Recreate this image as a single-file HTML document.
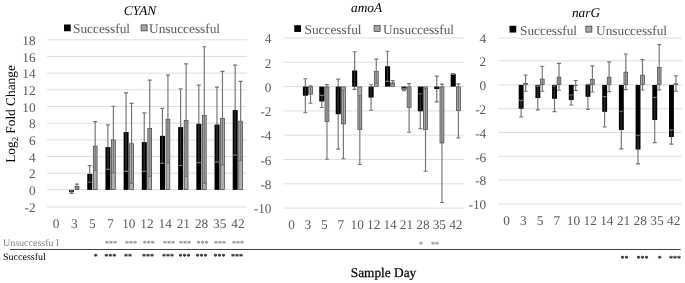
<!DOCTYPE html><html><head><meta charset="utf-8"><title>Figure</title><style>html,body{margin:0;padding:0;background:#fff}svg{display:block;will-change:transform}svg text{font-family:"Liberation Serif",serif;text-rendering:geometricPrecision}</style></head><body><svg width="685" height="283" viewBox="0 0 685 283">
<rect width="685" height="283" fill="#fff"/>
<line x1="47" x2="247" y1="207.00" y2="207.00" stroke="#dedede" stroke-width="1"/>
<text x="35.7" y="212.20" font-size="13.33" fill="#595959" text-anchor="end">-2</text>
<line x1="47" x2="247" y1="189.60" y2="189.60" stroke="#dedede" stroke-width="1"/>
<text x="35.7" y="194.80" font-size="13.33" fill="#595959" text-anchor="end">0</text>
<line x1="47" x2="247" y1="173.22" y2="173.22" stroke="#dedede" stroke-width="1"/>
<text x="35.7" y="178.42" font-size="13.33" fill="#595959" text-anchor="end">2</text>
<line x1="47" x2="247" y1="156.54" y2="156.54" stroke="#dedede" stroke-width="1"/>
<text x="35.7" y="161.74" font-size="13.33" fill="#595959" text-anchor="end">4</text>
<line x1="47" x2="247" y1="139.86" y2="139.86" stroke="#dedede" stroke-width="1"/>
<text x="35.7" y="145.06" font-size="13.33" fill="#595959" text-anchor="end">6</text>
<line x1="47" x2="247" y1="123.18" y2="123.18" stroke="#dedede" stroke-width="1"/>
<text x="35.7" y="128.38" font-size="13.33" fill="#595959" text-anchor="end">8</text>
<line x1="47" x2="247" y1="106.50" y2="106.50" stroke="#dedede" stroke-width="1"/>
<text x="35.7" y="111.70" font-size="13.33" fill="#595959" text-anchor="end">10</text>
<line x1="47" x2="247" y1="89.82" y2="89.82" stroke="#dedede" stroke-width="1"/>
<text x="35.7" y="95.02" font-size="13.33" fill="#595959" text-anchor="end">12</text>
<line x1="47" x2="247" y1="73.14" y2="73.14" stroke="#dedede" stroke-width="1"/>
<text x="35.7" y="78.34" font-size="13.33" fill="#595959" text-anchor="end">14</text>
<line x1="47" x2="247" y1="56.46" y2="56.46" stroke="#dedede" stroke-width="1"/>
<text x="35.7" y="61.66" font-size="13.33" fill="#595959" text-anchor="end">16</text>
<line x1="47" x2="247" y1="39.78" y2="39.78" stroke="#dedede" stroke-width="1"/>
<text x="35.7" y="44.98" font-size="13.33" fill="#595959" text-anchor="end">18</text>
<text x="56.09" y="228" font-size="13.33" fill="#595959" text-anchor="middle">0</text>
<text x="74.27" y="228" font-size="13.33" fill="#595959" text-anchor="middle">3</text>
<rect x="69.07" y="189.90" width="5.00" height="2.25" fill="#000"/>
<path d="M71.52 190.90V193.40M69.52 190.90H73.52M69.52 193.40H73.52" stroke="#737373" stroke-width="1.15" fill="none"/>
<path d="M71.52 191.70V192.15" stroke="#000" stroke-opacity="0.6" stroke-width="1.6" fill="none"/>
<rect x="75.12" y="186.50" width="3.80" height="3.05" fill="#adadad" stroke="#383838" stroke-width="0.7"/>
<path d="M77.02 184.06V188.23M75.02 184.06H79.02M75.02 188.23H79.02" stroke="#737373" stroke-width="1.15" fill="none"/>
<text x="92.45" y="228" font-size="13.33" fill="#595959" text-anchor="middle">5</text>
<rect x="87.25" y="173.89" width="5.00" height="16.01" fill="#000"/>
<path d="M89.70 165.55V182.23M87.70 165.55H91.70M87.70 182.23H91.70" stroke="#737373" stroke-width="1.15" fill="none"/>
<path d="M89.70 173.89V181.43" stroke="#000" stroke-opacity="0.6" stroke-width="1.6" fill="none"/>
<rect x="93.30" y="146.21" width="3.80" height="43.34" fill="#adadad" stroke="#383838" stroke-width="0.7"/>
<path d="M95.20 121.68V170.05M93.20 121.68H97.20M93.20 170.05H97.20" stroke="#737373" stroke-width="1.15" fill="none"/>
<text x="110.64" y="228" font-size="13.33" fill="#595959" text-anchor="middle">7</text>
<rect x="105.44" y="147.12" width="5.00" height="42.78" fill="#000"/>
<path d="M107.89 124.85V169.38M105.89 124.85H109.89M105.89 169.38H109.89" stroke="#737373" stroke-width="1.15" fill="none"/>
<path d="M107.89 147.12V168.58" stroke="#000" stroke-opacity="0.6" stroke-width="1.6" fill="none"/>
<rect x="111.49" y="139.96" width="3.80" height="49.59" fill="#adadad" stroke="#383838" stroke-width="0.7"/>
<path d="M113.39 106.25V172.97M111.39 106.25H115.39M111.39 172.97H115.39" stroke="#737373" stroke-width="1.15" fill="none"/>
<text x="128.82" y="228" font-size="13.33" fill="#595959" text-anchor="middle">10</text>
<rect x="123.62" y="132.10" width="5.00" height="57.80" fill="#000"/>
<path d="M126.07 92.91V171.30M124.07 92.91H128.07M124.07 171.30H128.07" stroke="#737373" stroke-width="1.15" fill="none"/>
<path d="M126.07 132.10V170.50" stroke="#000" stroke-opacity="0.6" stroke-width="1.6" fill="none"/>
<rect x="129.67" y="143.71" width="3.80" height="45.84" fill="#adadad" stroke="#383838" stroke-width="0.7"/>
<path d="M131.57 103.33V183.39M129.57 103.33H133.57M129.57 183.39H133.57" stroke="#737373" stroke-width="1.15" fill="none"/>
<text x="147.00" y="228" font-size="13.33" fill="#595959" text-anchor="middle">12</text>
<rect x="141.80" y="142.11" width="5.00" height="47.79" fill="#000"/>
<path d="M144.25 112.92V171.30M142.25 112.92H146.25M142.25 171.30H146.25" stroke="#737373" stroke-width="1.15" fill="none"/>
<path d="M144.25 142.11V170.50" stroke="#000" stroke-opacity="0.6" stroke-width="1.6" fill="none"/>
<rect x="147.85" y="128.53" width="3.80" height="61.02" fill="#adadad" stroke="#383838" stroke-width="0.7"/>
<path d="M149.75 80.06V176.31M147.75 80.06H151.75M147.75 176.31H151.75" stroke="#737373" stroke-width="1.15" fill="none"/>
<text x="165.18" y="228" font-size="13.33" fill="#595959" text-anchor="middle">14</text>
<rect x="159.98" y="135.86" width="5.00" height="54.04" fill="#000"/>
<path d="M162.43 108.33V163.38M160.43 108.33H164.43M160.43 163.38H164.43" stroke="#737373" stroke-width="1.15" fill="none"/>
<path d="M162.43 135.86V162.58" stroke="#000" stroke-opacity="0.6" stroke-width="1.6" fill="none"/>
<rect x="166.03" y="119.19" width="3.80" height="70.36" fill="#adadad" stroke="#383838" stroke-width="0.7"/>
<path d="M167.93 75.06V162.63M165.93 75.06H169.93M165.93 162.63H169.93" stroke="#737373" stroke-width="1.15" fill="none"/>
<text x="183.36" y="228" font-size="13.33" fill="#595959" text-anchor="middle">21</text>
<rect x="178.16" y="127.10" width="5.00" height="62.80" fill="#000"/>
<path d="M180.61 88.74V165.46M178.61 88.74H182.61M178.61 165.46H182.61" stroke="#737373" stroke-width="1.15" fill="none"/>
<path d="M180.61 127.10V164.66" stroke="#000" stroke-opacity="0.6" stroke-width="1.6" fill="none"/>
<rect x="184.21" y="120.44" width="3.80" height="69.11" fill="#adadad" stroke="#383838" stroke-width="0.7"/>
<path d="M186.11 63.80V176.39M184.11 63.80H188.11M184.11 176.39H188.11" stroke="#737373" stroke-width="1.15" fill="none"/>
<text x="201.55" y="228" font-size="13.33" fill="#595959" text-anchor="middle">28</text>
<rect x="196.35" y="123.85" width="5.00" height="66.05" fill="#000"/>
<path d="M198.80 85.07V162.63M196.80 85.07H200.80M196.80 162.63H200.80" stroke="#737373" stroke-width="1.15" fill="none"/>
<path d="M198.80 123.85V161.83" stroke="#000" stroke-opacity="0.6" stroke-width="1.6" fill="none"/>
<rect x="202.40" y="115.44" width="3.80" height="74.11" fill="#adadad" stroke="#383838" stroke-width="0.7"/>
<path d="M204.30 46.79V183.39M202.30 46.79H206.30M202.30 183.39H206.30" stroke="#737373" stroke-width="1.15" fill="none"/>
<text x="219.73" y="228" font-size="13.33" fill="#595959" text-anchor="middle">35</text>
<rect x="214.53" y="124.60" width="5.00" height="65.30" fill="#000"/>
<path d="M216.98 87.07V162.13M214.98 87.07H218.98M214.98 162.13H218.98" stroke="#737373" stroke-width="1.15" fill="none"/>
<path d="M216.98 124.60V161.33" stroke="#000" stroke-opacity="0.6" stroke-width="1.6" fill="none"/>
<rect x="220.58" y="118.44" width="3.80" height="71.11" fill="#adadad" stroke="#383838" stroke-width="0.7"/>
<path d="M222.48 71.31V164.88M220.48 71.31H224.48M220.48 164.88H224.48" stroke="#737373" stroke-width="1.15" fill="none"/>
<text x="237.91" y="228" font-size="13.33" fill="#595959" text-anchor="middle">42</text>
<rect x="232.71" y="110.09" width="5.00" height="79.81" fill="#000"/>
<path d="M235.16 65.05V155.12M233.16 65.05H237.16M233.16 155.12H237.16" stroke="#737373" stroke-width="1.15" fill="none"/>
<path d="M235.16 110.09V154.32" stroke="#000" stroke-opacity="0.6" stroke-width="1.6" fill="none"/>
<rect x="238.76" y="121.19" width="3.80" height="68.36" fill="#adadad" stroke="#383838" stroke-width="0.7"/>
<path d="M240.66 81.31V160.38M238.66 81.31H242.66M238.66 160.38H242.66" stroke="#737373" stroke-width="1.15" fill="none"/>
<text x="140" y="15" font-size="13.33" font-style="italic" fill="#000" text-anchor="middle">CYAN</text>
<rect x="64" y="24.5" width="6.75" height="6.75" fill="#000"/>
<text x="73" y="32.5" font-size="13.33" fill="#595959">Successful</text>
<rect x="141.1" y="24.85" width="6" height="6" fill="#a6a6a6" stroke="#333" stroke-width="0.7"/>
<text x="149" y="32.5" font-size="13.33" fill="#595959">Unsuccessful</text>
<line x1="283.3" x2="464" y1="208.10" y2="208.10" stroke="#dedede" stroke-width="1"/>
<text x="271.5" y="213.30" font-size="13.33" fill="#595959" text-anchor="end">-10</text>
<line x1="283.3" x2="464" y1="183.80" y2="183.80" stroke="#dedede" stroke-width="1"/>
<text x="271.5" y="189.00" font-size="13.33" fill="#595959" text-anchor="end">-8</text>
<line x1="283.3" x2="464" y1="159.50" y2="159.50" stroke="#dedede" stroke-width="1"/>
<text x="271.5" y="164.70" font-size="13.33" fill="#595959" text-anchor="end">-6</text>
<line x1="283.3" x2="464" y1="135.20" y2="135.20" stroke="#dedede" stroke-width="1"/>
<text x="271.5" y="140.40" font-size="13.33" fill="#595959" text-anchor="end">-4</text>
<line x1="283.3" x2="464" y1="110.90" y2="110.90" stroke="#dedede" stroke-width="1"/>
<text x="271.5" y="116.10" font-size="13.33" fill="#595959" text-anchor="end">-2</text>
<line x1="283.3" x2="464" y1="86.60" y2="86.60" stroke="#dedede" stroke-width="1"/>
<text x="271.5" y="91.80" font-size="13.33" fill="#595959" text-anchor="end">0</text>
<line x1="283.3" x2="464" y1="62.30" y2="62.30" stroke="#dedede" stroke-width="1"/>
<text x="271.5" y="67.50" font-size="13.33" fill="#595959" text-anchor="end">2</text>
<line x1="283.3" x2="464" y1="38.00" y2="38.00" stroke="#dedede" stroke-width="1"/>
<text x="271.5" y="43.20" font-size="13.33" fill="#595959" text-anchor="end">4</text>
<text x="291.51" y="229" font-size="13.33" fill="#595959" text-anchor="middle">0</text>
<text x="307.94" y="229" font-size="13.33" fill="#595959" text-anchor="middle">3</text>
<rect x="302.84" y="86.60" width="5.10" height="9.11" fill="#000"/>
<path d="M305.34 78.70V112.72M303.34 78.70H307.34M303.34 112.72H307.34" stroke="#737373" stroke-width="1.15" fill="none"/>
<path d="M305.34 86.60V95.71" stroke="#000" stroke-opacity="0.6" stroke-width="1.6" fill="none"/>
<rect x="308.59" y="86.95" width="3.90" height="7.20" fill="#adadad" stroke="#383838" stroke-width="0.7"/>
<path d="M310.54 85.75V103.25M308.54 85.75H312.54M308.54 103.25H312.54" stroke="#737373" stroke-width="1.15" fill="none"/>
<text x="324.37" y="229" font-size="13.33" fill="#595959" text-anchor="middle">5</text>
<rect x="319.27" y="86.60" width="5.10" height="14.82" fill="#000"/>
<path d="M321.77 95.35V107.50M319.77 95.35H323.77M319.77 107.50H323.77" stroke="#737373" stroke-width="1.15" fill="none"/>
<path d="M321.77 96.15V101.42" stroke="#000" stroke-opacity="0.6" stroke-width="1.6" fill="none"/>
<rect x="325.02" y="86.95" width="3.90" height="34.66" fill="#adadad" stroke="#383838" stroke-width="0.7"/>
<path d="M326.97 84.66V159.26M324.97 84.66H328.97M324.97 159.26H328.97" stroke="#737373" stroke-width="1.15" fill="none"/>
<text x="340.80" y="229" font-size="13.33" fill="#595959" text-anchor="middle">7</text>
<rect x="335.70" y="86.60" width="5.10" height="27.58" fill="#000"/>
<path d="M338.20 79.19V149.17M336.20 79.19H340.20M336.20 149.17H340.20" stroke="#737373" stroke-width="1.15" fill="none"/>
<path d="M338.20 86.60V114.18" stroke="#000" stroke-opacity="0.6" stroke-width="1.6" fill="none"/>
<rect x="341.45" y="86.95" width="3.90" height="36.96" fill="#adadad" stroke="#383838" stroke-width="0.7"/>
<path d="M343.40 89.76V158.77M341.40 89.76H345.40M341.40 158.77H345.40" stroke="#737373" stroke-width="1.15" fill="none"/>
<text x="357.22" y="229" font-size="13.33" fill="#595959" text-anchor="middle">10</text>
<rect x="352.12" y="70.56" width="5.10" height="16.04" fill="#000"/>
<path d="M354.62 51.73V89.39M352.62 51.73H356.62M352.62 89.39H356.62" stroke="#737373" stroke-width="1.15" fill="none"/>
<path d="M354.62 70.56V86.60" stroke="#000" stroke-opacity="0.6" stroke-width="1.6" fill="none"/>
<rect x="357.87" y="86.95" width="3.90" height="42.68" fill="#adadad" stroke="#383838" stroke-width="0.7"/>
<path d="M359.82 95.47V164.48M357.82 95.47H361.82M357.82 164.48H361.82" stroke="#737373" stroke-width="1.15" fill="none"/>
<text x="373.65" y="229" font-size="13.33" fill="#595959" text-anchor="middle">12</text>
<rect x="368.55" y="86.60" width="5.10" height="10.94" fill="#000"/>
<path d="M371.05 84.78V110.29M369.05 84.78H373.05M369.05 110.29H373.05" stroke="#737373" stroke-width="1.15" fill="none"/>
<path d="M371.05 86.60V97.53" stroke="#000" stroke-opacity="0.6" stroke-width="1.6" fill="none"/>
<rect x="374.30" y="71.64" width="3.90" height="14.61" fill="#adadad" stroke="#383838" stroke-width="0.7"/>
<path d="M376.25 59.14V83.44M374.25 59.14H378.25M374.25 83.44H378.25" stroke="#737373" stroke-width="1.15" fill="none"/>
<text x="390.08" y="229" font-size="13.33" fill="#595959" text-anchor="middle">14</text>
<rect x="384.98" y="66.31" width="5.10" height="20.29" fill="#000"/>
<path d="M387.48 51.24V81.38M385.48 51.24H389.48M385.48 81.38H389.48" stroke="#737373" stroke-width="1.15" fill="none"/>
<path d="M387.48 66.31V80.58" stroke="#000" stroke-opacity="0.6" stroke-width="1.6" fill="none"/>
<rect x="390.73" y="82.82" width="3.90" height="3.43" fill="#adadad" stroke="#383838" stroke-width="0.7"/>
<path d="M392.68 80.65V84.29M390.68 80.65H394.68M390.68 84.29H394.68" stroke="#737373" stroke-width="1.15" fill="none"/>
<text x="406.50" y="229" font-size="13.33" fill="#595959" text-anchor="middle">21</text>
<rect x="401.40" y="86.60" width="5.10" height="2.92" fill="#000"/>
<path d="M403.90 88.30V90.73M401.90 88.30H405.90M401.90 90.73H405.90" stroke="#737373" stroke-width="1.15" fill="none"/>
<path d="M403.90 89.10V89.52" stroke="#000" stroke-opacity="0.6" stroke-width="1.6" fill="none"/>
<rect x="407.15" y="86.95" width="3.90" height="20.68" fill="#adadad" stroke="#383838" stroke-width="0.7"/>
<path d="M409.10 83.68V132.28M407.10 83.68H411.10M407.10 132.28H411.10" stroke="#737373" stroke-width="1.15" fill="none"/>
<text x="422.93" y="229" font-size="13.33" fill="#595959" text-anchor="middle">28</text>
<rect x="417.83" y="86.60" width="5.10" height="24.66" fill="#000"/>
<path d="M420.33 93.77V128.76M418.33 93.77H422.33M418.33 128.76H422.33" stroke="#737373" stroke-width="1.15" fill="none"/>
<path d="M420.33 94.57V111.26" stroke="#000" stroke-opacity="0.6" stroke-width="1.6" fill="none"/>
<rect x="423.58" y="86.95" width="3.90" height="42.68" fill="#adadad" stroke="#383838" stroke-width="0.7"/>
<path d="M425.53 88.67V171.29M423.53 88.67H427.53M423.53 171.29H427.53" stroke="#737373" stroke-width="1.15" fill="none"/>
<text x="439.36" y="229" font-size="13.33" fill="#595959" text-anchor="middle">35</text>
<rect x="434.26" y="86.60" width="5.10" height="2.43" fill="#000"/>
<path d="M436.76 76.15V101.91M434.76 76.15H438.76M434.76 101.91H438.76" stroke="#737373" stroke-width="1.15" fill="none"/>
<path d="M436.76 86.60V89.03" stroke="#000" stroke-opacity="0.6" stroke-width="1.6" fill="none"/>
<rect x="440.01" y="86.95" width="3.90" height="56.04" fill="#adadad" stroke="#383838" stroke-width="0.7"/>
<path d="M441.96 84.17V202.51M439.96 84.17H443.96M439.96 202.51H443.96" stroke="#737373" stroke-width="1.15" fill="none"/>
<text x="455.79" y="229" font-size="13.33" fill="#595959" text-anchor="middle">42</text>
<rect x="450.69" y="73.96" width="5.10" height="12.64" fill="#000"/>
<path d="M453.19 73.48V74.45M451.19 73.48H455.19M451.19 74.45H455.19" stroke="#737373" stroke-width="1.15" fill="none"/>
<rect x="456.44" y="86.95" width="3.90" height="23.60" fill="#adadad" stroke="#383838" stroke-width="0.7"/>
<path d="M458.39 83.81V137.99M456.39 83.81H460.39M456.39 137.99H460.39" stroke="#737373" stroke-width="1.15" fill="none"/>
<text x="366.6" y="12" font-size="13.33" font-style="italic" fill="#000" text-anchor="middle">amoA</text>
<rect x="294.25" y="25.200000000000003" width="6.75" height="6.75" fill="#000"/>
<text x="304.5" y="33.6" font-size="13.33" fill="#595959">Successful</text>
<rect x="374.1" y="25.550000000000004" width="6" height="6" fill="#a6a6a6" stroke="#333" stroke-width="0.7"/>
<text x="383" y="33.6" font-size="13.33" fill="#595959">Unsuccessful</text>
<line x1="498.3" x2="682" y1="203.90" y2="203.90" stroke="#dedede" stroke-width="1"/>
<text x="486.25" y="209.10" font-size="13.33" fill="#595959" text-anchor="end">-10</text>
<line x1="498.3" x2="682" y1="180.10" y2="180.10" stroke="#dedede" stroke-width="1"/>
<text x="486.25" y="185.30" font-size="13.33" fill="#595959" text-anchor="end">-8</text>
<line x1="498.3" x2="682" y1="156.30" y2="156.30" stroke="#dedede" stroke-width="1"/>
<text x="486.25" y="161.50" font-size="13.33" fill="#595959" text-anchor="end">-6</text>
<line x1="498.3" x2="682" y1="132.50" y2="132.50" stroke="#dedede" stroke-width="1"/>
<text x="486.25" y="137.70" font-size="13.33" fill="#595959" text-anchor="end">-4</text>
<line x1="498.3" x2="682" y1="108.70" y2="108.70" stroke="#dedede" stroke-width="1"/>
<text x="486.25" y="113.90" font-size="13.33" fill="#595959" text-anchor="end">-2</text>
<line x1="498.3" x2="682" y1="84.90" y2="84.90" stroke="#dedede" stroke-width="1"/>
<text x="486.25" y="90.10" font-size="13.33" fill="#595959" text-anchor="end">0</text>
<line x1="498.3" x2="682" y1="60.80" y2="60.80" stroke="#dedede" stroke-width="1"/>
<text x="486.25" y="66.00" font-size="13.33" fill="#595959" text-anchor="end">2</text>
<line x1="498.3" x2="682" y1="38.00" y2="38.00" stroke="#dedede" stroke-width="1"/>
<text x="486.25" y="43.20" font-size="13.33" fill="#595959" text-anchor="end">4</text>
<text x="506.65" y="224.5" font-size="13.33" fill="#595959" text-anchor="middle">0</text>
<text x="523.35" y="224.5" font-size="13.33" fill="#595959" text-anchor="middle">3</text>
<rect x="518.70" y="84.90" width="4.90" height="23.80" fill="#000"/>
<path d="M521.10 100.37V117.03M519.10 100.37H523.10M519.10 117.03H523.10" stroke="#737373" stroke-width="1.15" fill="none"/>
<path d="M521.10 101.17V108.70" stroke="#000" stroke-opacity="0.6" stroke-width="1.6" fill="none"/>
<rect x="523.75" y="83.47" width="3.70" height="1.08" fill="#adadad" stroke="#383838" stroke-width="0.7"/>
<path d="M525.60 75.02V91.21M523.60 75.02H527.60M523.60 91.21H527.60" stroke="#737373" stroke-width="1.15" fill="none"/>
<text x="540.05" y="224.5" font-size="13.33" fill="#595959" text-anchor="middle">5</text>
<rect x="535.40" y="84.90" width="4.90" height="13.09" fill="#000"/>
<path d="M537.80 86.09V109.89M535.80 86.09H539.80M535.80 109.89H539.80" stroke="#737373" stroke-width="1.15" fill="none"/>
<path d="M537.80 86.89V97.99" stroke="#000" stroke-opacity="0.6" stroke-width="1.6" fill="none"/>
<rect x="540.45" y="79.06" width="3.70" height="5.49" fill="#adadad" stroke="#383838" stroke-width="0.7"/>
<path d="M542.30 66.22V91.21M540.30 66.22H544.30M540.30 91.21H544.30" stroke="#737373" stroke-width="1.15" fill="none"/>
<text x="556.75" y="224.5" font-size="13.33" fill="#595959" text-anchor="middle">7</text>
<rect x="552.10" y="84.90" width="4.90" height="13.92" fill="#000"/>
<path d="M554.50 85.97V111.68M552.50 85.97H556.50M552.50 111.68H556.50" stroke="#737373" stroke-width="1.15" fill="none"/>
<path d="M554.50 86.77V98.82" stroke="#000" stroke-opacity="0.6" stroke-width="1.6" fill="none"/>
<rect x="557.15" y="77.16" width="3.70" height="7.39" fill="#adadad" stroke="#383838" stroke-width="0.7"/>
<path d="M559.00 63.36V90.26M557.00 63.36H561.00M557.00 90.26H561.00" stroke="#737373" stroke-width="1.15" fill="none"/>
<text x="573.45" y="224.5" font-size="13.33" fill="#595959" text-anchor="middle">10</text>
<rect x="568.80" y="84.90" width="4.90" height="15.11" fill="#000"/>
<path d="M571.20 95.02V105.01M569.20 95.02H573.20M569.20 105.01H573.20" stroke="#737373" stroke-width="1.15" fill="none"/>
<path d="M571.20 95.82V100.01" stroke="#000" stroke-opacity="0.6" stroke-width="1.6" fill="none"/>
<rect x="573.85" y="85.25" width="3.70" height="0.10" fill="#adadad" stroke="#383838" stroke-width="0.7"/>
<path d="M575.70 80.50V90.49M573.70 80.50H577.70M573.70 90.49H577.70" stroke="#737373" stroke-width="1.15" fill="none"/>
<text x="590.15" y="224.5" font-size="13.33" fill="#595959" text-anchor="middle">12</text>
<rect x="585.50" y="84.90" width="4.90" height="11.90" fill="#000"/>
<path d="M587.90 84.31V109.30M585.90 84.31H589.90M585.90 109.30H589.90" stroke="#737373" stroke-width="1.15" fill="none"/>
<path d="M587.90 84.90V96.80" stroke="#000" stroke-opacity="0.6" stroke-width="1.6" fill="none"/>
<rect x="590.55" y="79.30" width="3.70" height="5.25" fill="#adadad" stroke="#383838" stroke-width="0.7"/>
<path d="M592.40 65.86V92.04M590.40 65.86H594.40M590.40 92.04H594.40" stroke="#737373" stroke-width="1.15" fill="none"/>
<text x="606.85" y="224.5" font-size="13.33" fill="#595959" text-anchor="middle">14</text>
<rect x="602.20" y="84.90" width="4.90" height="26.89" fill="#000"/>
<path d="M604.60 96.56V127.03M602.60 96.56H606.60M602.60 127.03H606.60" stroke="#737373" stroke-width="1.15" fill="none"/>
<path d="M604.60 97.36V111.79" stroke="#000" stroke-opacity="0.6" stroke-width="1.6" fill="none"/>
<rect x="607.25" y="77.16" width="3.70" height="7.39" fill="#adadad" stroke="#383838" stroke-width="0.7"/>
<path d="M609.10 61.93V91.68M607.10 61.93H611.10M607.10 91.68H611.10" stroke="#737373" stroke-width="1.15" fill="none"/>
<text x="623.55" y="224.5" font-size="13.33" fill="#595959" text-anchor="middle">21</text>
<rect x="618.90" y="84.90" width="4.90" height="45.10" fill="#000"/>
<path d="M621.30 111.20V148.80M619.30 111.20H623.30M619.30 148.80H623.30" stroke="#737373" stroke-width="1.15" fill="none"/>
<path d="M621.30 112.00V130.00" stroke="#000" stroke-opacity="0.6" stroke-width="1.6" fill="none"/>
<rect x="623.95" y="72.16" width="3.70" height="12.39" fill="#adadad" stroke="#383838" stroke-width="0.7"/>
<path d="M625.80 53.96V89.66M623.80 53.96H627.80M623.80 89.66H627.80" stroke="#737373" stroke-width="1.15" fill="none"/>
<text x="640.25" y="224.5" font-size="13.33" fill="#595959" text-anchor="middle">28</text>
<rect x="635.60" y="84.90" width="4.90" height="64.62" fill="#000"/>
<path d="M638.00 135.24V163.80M636.00 135.24H640.00M636.00 163.80H640.00" stroke="#737373" stroke-width="1.15" fill="none"/>
<path d="M638.00 136.04V149.52" stroke="#000" stroke-opacity="0.6" stroke-width="1.6" fill="none"/>
<rect x="640.65" y="75.14" width="3.70" height="9.41" fill="#adadad" stroke="#383838" stroke-width="0.7"/>
<path d="M642.50 59.55V90.02M640.50 59.55H644.50M640.50 90.02H644.50" stroke="#737373" stroke-width="1.15" fill="none"/>
<text x="656.95" y="224.5" font-size="13.33" fill="#595959" text-anchor="middle">35</text>
<rect x="652.30" y="84.90" width="4.90" height="35.11" fill="#000"/>
<path d="M654.70 97.40V142.62M652.70 97.40H656.70M652.70 142.62H656.70" stroke="#737373" stroke-width="1.15" fill="none"/>
<path d="M654.70 98.20V120.01" stroke="#000" stroke-opacity="0.6" stroke-width="1.6" fill="none"/>
<rect x="657.35" y="67.64" width="3.70" height="16.91" fill="#adadad" stroke="#383838" stroke-width="0.7"/>
<path d="M659.20 44.68V89.90M657.20 44.68H661.20M657.20 89.90H661.20" stroke="#737373" stroke-width="1.15" fill="none"/>
<text x="673.65" y="224.5" font-size="13.33" fill="#595959" text-anchor="middle">42</text>
<rect x="669.00" y="84.90" width="4.90" height="52.12" fill="#000"/>
<path d="M671.40 129.88V144.16M669.40 129.88H673.40M669.40 144.16H673.40" stroke="#737373" stroke-width="1.15" fill="none"/>
<path d="M671.40 130.68V137.02" stroke="#000" stroke-opacity="0.6" stroke-width="1.6" fill="none"/>
<rect x="674.05" y="83.82" width="3.70" height="0.73" fill="#adadad" stroke="#383838" stroke-width="0.7"/>
<path d="M675.90 75.74V91.21M673.90 75.74H677.90M673.90 91.21H677.90" stroke="#737373" stroke-width="1.15" fill="none"/>
<text x="586" y="17" font-size="13.33" font-style="italic" fill="#000" text-anchor="middle">narG</text>
<rect x="509.5" y="25.800000000000004" width="6.75" height="6.75" fill="#000"/>
<text x="520" y="34.7" font-size="13.33" fill="#595959">Successful</text>
<rect x="585.85" y="26.150000000000006" width="6" height="6" fill="#a6a6a6" stroke="#333" stroke-width="0.7"/>
<text x="596" y="34.7" font-size="13.33" fill="#595959">Unsuccessful</text>
<text transform="translate(15,114) rotate(-90)" font-size="13.33" fill="#000" text-anchor="middle">Log<tspan font-size="8.6" dy="2.5">2</tspan><tspan dy="-2.5"> Fold Change</tspan></text>
<text x="3" y="246.25" font-size="10" fill="#808080">Unsuccessfu l</text>
<text x="3" y="259.5" font-size="10" fill="#000">Successful</text>
<line x1="10" x2="680.7" y1="249.5" y2="249.5" stroke="#404040" stroke-width="1"/>
<text x="111" y="246.3" font-size="8" fill="#858585" text-anchor="middle" font-weight="bold">***</text>
<text x="131" y="246.3" font-size="8" fill="#858585" text-anchor="middle" font-weight="bold">***</text>
<text x="148.75" y="246.3" font-size="8" fill="#858585" text-anchor="middle" font-weight="bold">***</text>
<text x="169" y="246.3" font-size="8" fill="#858585" text-anchor="middle" font-weight="bold">***</text>
<text x="185" y="246.3" font-size="8" fill="#858585" text-anchor="middle" font-weight="bold">***</text>
<text x="202.5" y="246.3" font-size="8" fill="#858585" text-anchor="middle" font-weight="bold">***</text>
<text x="220" y="246.3" font-size="8" fill="#858585" text-anchor="middle" font-weight="bold">***</text>
<text x="238" y="246.3" font-size="8" fill="#858585" text-anchor="middle" font-weight="bold">***</text>
<text x="95.75" y="259.3" font-size="8" fill="#000" text-anchor="middle" font-weight="bold">*</text>
<text x="110.3" y="259.3" font-size="8" fill="#000" text-anchor="middle" font-weight="bold">***</text>
<text x="127.9" y="259.3" font-size="8" fill="#000" text-anchor="middle" font-weight="bold">**</text>
<text x="147.9" y="259.3" font-size="8" fill="#000" text-anchor="middle" font-weight="bold">***</text>
<text x="168" y="259.3" font-size="8" fill="#000" text-anchor="middle" font-weight="bold">***</text>
<text x="184.4" y="259.3" font-size="8" fill="#000" text-anchor="middle" font-weight="bold">***</text>
<text x="201.6" y="259.3" font-size="8" fill="#000" text-anchor="middle" font-weight="bold">***</text>
<text x="219.4" y="259.3" font-size="8" fill="#000" text-anchor="middle" font-weight="bold">***</text>
<text x="237.1" y="259.3" font-size="8" fill="#000" text-anchor="middle" font-weight="bold">***</text>
<text x="421" y="247.3" font-size="8" fill="#858585" text-anchor="middle" font-weight="bold">*</text>
<text x="435" y="247.3" font-size="8" fill="#858585" text-anchor="middle" font-weight="bold">**</text>
<text x="624.5" y="261" font-size="8" fill="#000" text-anchor="middle" font-weight="bold">**</text>
<text x="642.4" y="261" font-size="8" fill="#000" text-anchor="middle" font-weight="bold">***</text>
<text x="659.75" y="261" font-size="8" fill="#000" text-anchor="middle" font-weight="bold">*</text>
<text x="675" y="261" font-size="8" fill="#000" text-anchor="middle" font-weight="bold">***</text>
<text x="383.5" y="276.5" font-size="13.33" fill="#000" stroke="#000" stroke-width="0.25" text-anchor="middle">Sample Day</text>
</svg></body></html>
